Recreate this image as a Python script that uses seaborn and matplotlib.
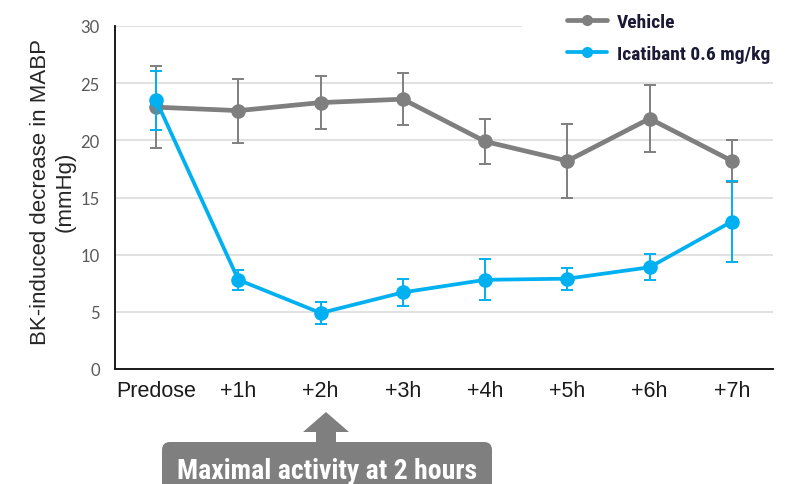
import matplotlib
matplotlib.use("Agg")
import matplotlib.pyplot as plt
from matplotlib.lines import Line2D
from matplotlib.patches import FancyBboxPatch, Polygon, Rectangle
import numpy as np
import pandas as pd
import seaborn as sns

# Time points and responses (mean ± error) of the BK challenge
categories = ["Predose", "+1h", "+2h", "+3h", "+4h", "+5h", "+6h", "+7h"]
vehicle = [22.9, 22.6, 23.3, 23.6, 19.9, 18.2, 21.9, 18.2]
vehicle_err = [3.6, 2.8, 2.35, 2.25, 2.0, 3.25, 2.9, 1.85]
icatibant = [23.5, 7.8, 4.9, 6.7, 7.8, 7.9, 8.9, 12.9]
icatibant_err = [2.6, 0.9, 0.95, 1.2, 1.8, 0.95, 1.15, 3.5]
series_names = ["Vehicle", "Icatibant 0.6 mg/kg"]
y_ticks = [0, 5, 10, 15, 20, 25, 30]

GRAY = "#7f7f7f"
BLUE = "#00b0f0"
NAVY = "#1a1a36"
COND = ["Roboto Condensed", "Liberation Sans Narrow", "DejaVu Sans"]

sns.set_style("white")
plt.rcParams["font.family"] = ["Liberation Sans", "DejaVu Sans"]

pos = np.arange(len(categories))
df = pd.DataFrame({
    "pos": np.concatenate([pos, pos]),
    "value": vehicle + icatibant,
    "series": [series_names[0]] * len(pos) + [series_names[1]] * len(pos),
})

fig = plt.figure(figsize=(7.97, 4.85), dpi=100)
ax = fig.add_axes([115 / 797, 1 - 370 / 485, 658 / 797, 343 / 485])

# Vehicle: error bars beneath the line
ax.errorbar(pos, vehicle, yerr=vehicle_err, fmt="none", ecolor=GRAY,
            elinewidth=1.4, capsize=4, capthick=1.4, zorder=2)
sns.lineplot(data=df[df["series"] == series_names[0]], x="pos", y="value",
             color=GRAY, linewidth=3.4, marker="o", markersize=10.5,
             markeredgewidth=0, ax=ax, zorder=3, legend=False)

# Icatibant on top
ax.errorbar(pos, icatibant, yerr=icatibant_err, fmt="none", ecolor=BLUE,
            elinewidth=1.4, capsize=4, capthick=1.4, zorder=4)
sns.lineplot(data=df[df["series"] == series_names[1]], x="pos", y="value",
             color=BLUE, linewidth=2.7, marker="o", markersize=10.5,
             markeredgewidth=0, ax=ax, zorder=5, legend=False)

ax.set_xlim(-0.5, len(categories) - 0.5)
ax.set_ylim(0, 30)
ax.set_xticks(pos)
ax.set_xticklabels(categories, fontsize=15.5, color="#1a1a1a")
ax.set_yticks(y_ticks)
ax.set_yticklabels([str(t) for t in y_ticks], fontsize=12, color="#595959",
                   family=["Lato", "DejaVu Sans"])
ax.tick_params(axis="both", length=0)
ax.tick_params(axis="x", pad=8)
ax.tick_params(axis="y", pad=11)

ax.yaxis.grid(True, color="#d9d9d9", linewidth=1.1)
ax.xaxis.grid(False)
ax.set_axisbelow(True)
for side in ("top", "right"):
    ax.spines[side].set_visible(False)
for side in ("left", "bottom"):
    ax.spines[side].set_color("#1a1a1a")
    ax.spines[side].set_linewidth(1.4)

ax.set_xlabel("")
ax.set_ylabel("BK-induced decrease in MABP\n(mmHg)", fontsize=16,
              color="#262626", linespacing=1.2)
ax.yaxis.set_label_coords(-0.060, 0.52)

# White panel behind the legend
fig.patches.append(Rectangle((5.22, 4.25), 2.8, 0.7, transform=fig.dpi_scale_trans,
                             facecolor="white", edgecolor="none", zorder=1))

handles = [
    Line2D([], [], color=GRAY, linewidth=3.4, marker="o", markersize=8,
           markeredgewidth=0),
    Line2D([], [], color=BLUE, linewidth=2.7, marker="o", markersize=8,
           markeredgewidth=0),
]
leg = fig.legend(handles, series_names, loc="upper left",
                 bbox_to_anchor=(5.67, 4.71), bbox_transform=fig.dpi_scale_trans,
                 frameon=False, borderpad=0, borderaxespad=0,
                 handlelength=2.05, handletextpad=0.5, labelspacing=0.72,
                 prop={"family": COND, "weight": "bold", "size": 14})
for t in leg.get_texts():
    t.set_color(NAVY)

# Callout arrow and banner beneath the +2h label
arrow = Polygon([(3.26, 0.72), (3.03, 0.52), (3.16, 0.52), (3.16, 0.40),
                 (3.36, 0.40), (3.36, 0.52), (3.49, 0.52)],
                closed=True, transform=fig.dpi_scale_trans,
                facecolor=GRAY, edgecolor="none", zorder=2)
fig.patches.append(arrow)
banner = FancyBboxPatch((1.62, -0.15), 3.30, 0.57,
                        boxstyle="round,pad=0,rounding_size=0.08",
                        transform=fig.dpi_scale_trans,
                        facecolor=GRAY, edgecolor="none", zorder=2)
fig.patches.append(banner)
fig.text(3.27, 0.055, "Maximal activity at 2 hours", transform=fig.dpi_scale_trans,
         ha="center", va="baseline", color="white", fontsize=20,
         fontweight="bold", family=COND, zorder=3)

fig.savefig("out.png", dpi=100)
